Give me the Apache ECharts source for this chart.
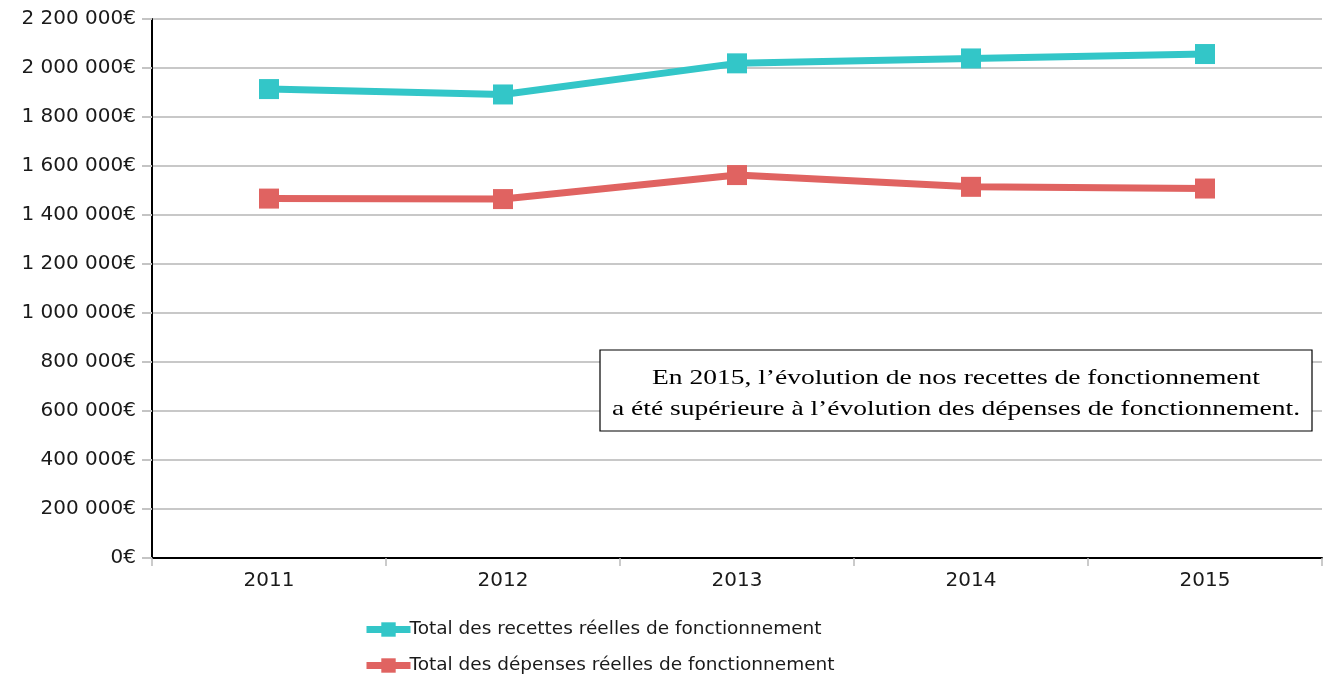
<!DOCTYPE html>
<html>
<head>
<meta charset="utf-8">
<script src="https://cdn.jsdelivr.net/npm/echarts@6/dist/echarts.min.js"></script>
<style>
html,body{margin:0;padding:0;background:#fff;}
#chart{width:1332px;height:680px;}
</style>
</head>
<body>
<div id="chart"></div>
<script>
const categories = ['2011', '2012', '2013', '2014', '2015'];
const recettes = [1914000, 1892000, 2019000, 2039000, 2057000];
const depenses = [1467000, 1465000, 1563000, 1515000, 1508000];
const seriesNames = ['Total des recettes réelles de fonctionnement', 'Total des dépenses réelles de fonctionnement'];
const noteLines = ['En 2015, l’évolution de nos recettes de fonctionnement', 'a été supérieure à l’évolution des dépenses de fonctionnement.'];

function fmt(v) {
  return String(v).replace(/\B(?=(\d{3})+(?!\d))/g, ' ') + '€';
}

const chart = echarts.init(document.getElementById('chart'), null, {renderer: 'canvas'});
const FONT = 'DejaVu Sans';
chart.setOption({
  backgroundColor: '#ffffff',
  animation: false,
  grid: {left: 152, right: 10, top: 19, bottom: 122},
  xAxis: {
    type: 'category',
    data: categories,
    boundaryGap: true,
    axisLine: {show: true, lineStyle: {color: '#000', width: 2}},
    axisTick: {show: true, length: 8, lineStyle: {color: '#bbb', width: 1.5}},
    axisLabel: {color: '#1a1a1a', fontFamily: FONT, fontSize: 20, margin: 13},
    splitLine: {show: false}
  },
  yAxis: {
    type: 'value',
    min: 0, max: 2200000, interval: 200000,
    axisLine: {show: true, lineStyle: {color: '#000', width: 2}},
    axisTick: {show: true, length: 10, lineStyle: {color: '#c4c4c4', width: 2}},
    axisLabel: {color: '#1a1a1a', fontFamily: FONT, fontSize: 20, margin: 16, formatter: fmt},
    splitLine: {show: true, lineStyle: {color: '#c8c8c8', width: 2}}
  },
  legend: {
    orient: 'vertical',
    left: 363, top: 620, padding: 0,
    itemWidth: 44, itemHeight: 18, itemGap: 17,
    lineStyle: {width: 7},
    textStyle: {fontFamily: FONT, fontSize: 18.5, lineHeight: 18, color: '#1a1a1a', padding: [0,0,0,-6]},
    data: seriesNames
  },
  series: [
    {
      name: seriesNames[0], type: 'line', data: recettes,
      symbol: 'rect', symbolSize: 20,
      lineStyle: {color: '#33c6c8', width: 7},
      itemStyle: {color: '#33c6c8'}
    },
    {
      name: seriesNames[1], type: 'line', data: depenses,
      symbol: 'rect', symbolSize: 20,
      lineStyle: {color: '#e06361', width: 7},
      itemStyle: {color: '#e06361'}
    }
  ],
  graphic: [
    {
      type: 'rect', x: 600, y: 350, z: 100,
      shape: {x: 0, y: 0, width: 712, height: 81},
      style: {fill: '#fff', stroke: '#000', lineWidth: 1.2}
    },
    {
      type: 'text', x: 956, y: 363, z: 101, scaleX: 1.25,
      style: {
        text: noteLines.join('\n'),
        fontFamily: 'Liberation Serif',
        fontSize: 22,
        fill: '#000', align: 'center', verticalAlign: 'top', lineHeight: 31
      }
    }
  ]
});
</script>
</body>
</html>
